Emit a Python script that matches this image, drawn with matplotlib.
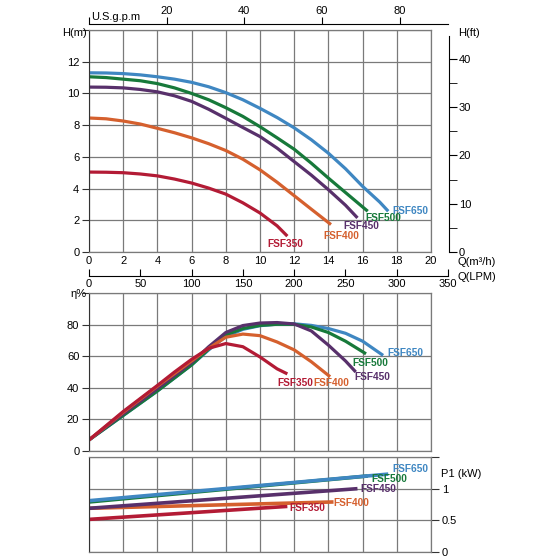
import matplotlib
matplotlib.use('Agg')
import matplotlib.pyplot as plt
import numpy as np

plt.rcParams['font.family'] = ['Liberation Sans', 'DejaVu Sans']
plt.rcParams['font.size'] = 8

# pump models and colours
models = ['FSF350', 'FSF400', 'FSF450', 'FSF500', 'FSF650']
colors = ['#b31b35', '#d5602e', '#58306b', '#17793a', '#3f87c2']

# head curves, Q in m3/h, H in m
q_head = {
   'FSF350': [0, 1, 2, 3, 4, 5, 6, 7, 8, 9, 10, 11, 11.6],
   'FSF400': [0, 1, 2, 3, 4, 5, 6, 7, 8, 9, 10, 11, 12, 13, 14.15],
   'FSF450': [0, 1, 2, 3, 4, 5, 6, 7, 8, 9, 10, 11, 12, 13, 14, 15, 15.7],
   'FSF500': [0, 1, 2, 3, 4, 5, 6, 7, 8, 9, 10, 11, 12, 13, 14, 15, 16.3],
   'FSF650': [0, 1, 2, 3, 4, 5, 6, 7, 8, 9, 10, 11, 12, 13, 14, 15, 16, 17, 17.5],
}
h_head = {
   'FSF350': [5.04, 5.03, 5.0, 4.92, 4.8, 4.6, 4.35, 4.03, 3.65, 3.1, 2.46, 1.65, 1.0],
   'FSF400': [8.45, 8.4, 8.26, 8.07, 7.8, 7.52, 7.2, 6.83, 6.4, 5.85, 5.18, 4.4, 3.55, 2.7, 1.73],
   'FSF450': [10.4, 10.39, 10.35, 10.25, 10.1, 9.85, 9.5, 9.0, 8.43, 7.85, 7.28, 6.55, 5.7, 4.85, 3.93, 2.95, 2.15],
   'FSF500': [11.05, 11.0, 10.9, 10.8, 10.62, 10.35, 10.0, 9.6, 9.1, 8.55, 7.9, 7.2, 6.48, 5.6, 4.66, 3.75, 2.57],
   'FSF650': [11.3, 11.29, 11.25, 11.17, 11.05, 10.9, 10.7, 10.42, 10.05, 9.6, 9.06, 8.48, 7.83, 7.08, 6.23, 5.25, 4.14, 3.15, 2.57],
}

# efficiency curves (%)
q_eff = {
   'FSF350': [0, 2, 4, 5, 6, 7, 8, 9, 10, 11, 11.6],
   'FSF400': [0, 2, 4, 6, 7, 8, 9, 10, 11, 12, 13, 14.1],
   'FSF450': [0, 2, 4, 6, 7, 8, 9, 10, 11, 12, 13, 14, 15, 15.6],
   'FSF500': [0, 2, 4, 6, 7, 8, 9, 10, 11, 12, 13, 14, 15, 16.2],
   'FSF650': [0, 2, 4, 6, 7, 8, 9, 10, 11, 12, 13, 14, 15, 16, 17.2],
}
eff = {
   'FSF350': [7, 25, 41.5, 50, 58, 65, 68, 66, 59.5, 52, 48.8],
   'FSF400': [7, 24.5, 41, 57, 65, 72, 74, 73, 69, 64, 56.5, 47],
   'FSF450': [7, 23.5, 39.5, 56, 66, 75, 79.4, 81, 81.3, 80.4, 76, 67, 57, 50],
   'FSF500': [7, 22.5, 38, 54.5, 64.5, 73.5, 77.5, 79.5, 80.2, 80.2, 78.5, 75, 69.5, 61.5],
   'FSF650': [7, 22.5, 38, 54.5, 64, 72.5, 77, 79.3, 80.3, 80.5, 79.5, 77.5, 74.5, 69.5, 60.5],
}

# input power P1 (kW)
q_pow = {
   'FSF350': [0, 11.6],
   'FSF400': [0, 14.3],
   'FSF450': [0, 15.7],
   'FSF500': [0, 16.3],
   'FSF650': [0, 17.5],
}
p1 = {
   'FSF350': [0.515, 0.72],
   'FSF400': [0.69, 0.79],
   'FSF450': [0.69, 1.0],
   'FSF500': [0.79, 1.2],
   'FSF650': [0.81, 1.23],
}

# label offsets from curve end, in pixels (dx, dy down)
head_lbl = {'FSF350': (-20, 8), 'FSF400': (-8, 11), 'FSF450': (-14, 8), 'FSF500': (-2, 7), 'FSF650': (4, 0)}
eff_lbl = {'FSF350': (-10, 9), 'FSF400': (-17, 6), 'FSF450': (-1, 5), 'FSF500': (-14, 9), 'FSF650': (4, -2)}
pow_lbl = {'FSF350': (2, 2), 'FSF400': (0, 1), 'FSF450': (3, 0), 'FSF500': (4, 3), 'FSF650': (4, -5)}

W = 560.0
GRID = '#7a7a7a'


def box(x0, y0, x1, y1):
   return [x0 / W, 1 - y1 / W, max((x1 - x0) / W, 1e-4), max((y1 - y0) / W, 1e-4)]


def style_grid(ax):
   ax.grid(True, color=GRID, linewidth=0.9)
   ax.set_axisbelow(True)
   for s in ['top', 'right', 'bottom']:
      ax.spines[s].set_color(GRID)
      ax.spines[s].set_linewidth(0.9)
   ax.spines['left'].set_color('#333333')
   ax.set_xlim(0, 20)
   ax.set_xticks(np.arange(0, 21, 2))


def label_end(ax, xs, ys, name, color, off):
   ax.annotate(name, xy=(xs[-1], ys[-1]), xytext=(off[0] * 0.72, -off[1] * 0.72),
               textcoords='offset points', ha='left', va='center',
               color=color, fontsize=7.3, fontweight='bold', annotation_clip=False)


fig = plt.figure(figsize=(5.6, 5.6), dpi=100)

#########################################################################
# Head curves
#########################################################################
ax_h = fig.add_axes(box(89, 30, 431, 252))
style_grid(ax_h)
ax_h.set_ylim(0, 14)
ax_h.set_yticks(np.arange(0, 15, 2))
ax_h.set_yticklabels([str(v) for v in range(0, 13, 2)] + [''])
ax_h.tick_params(axis='x', length=0, pad=3)
ax_h.tick_params(axis='y', length=5, direction='out', color='#333333', pad=2)
for name, c in zip(models, colors):
   ax_h.plot(q_head[name], h_head[name], color=c, linewidth=2.3, solid_capstyle='butt')
   label_end(ax_h, q_head[name], h_head[name], name, c, head_lbl[name])
fig.text(62 / W, 1 - 33 / W, 'H(m)', ha='left', va='center', fontsize=8)

# US gpm axis on top
ax_g = fig.add_axes(box(89, 24, 448, 24))
ax_g.set_xlim(0, 359 / 17.1 * 4.403)
ax_g.set_yticks([])
for s in ['left', 'right', 'bottom']:
   ax_g.spines[s].set_visible(False)
ax_g.xaxis.set_ticks_position('top')
ax_g.xaxis.set_label_position('top')
ax_g.set_xticks([0, 20, 40, 60, 80])
ax_g.set_xticklabels(['', '20', '40', '60', '80'])
ax_g.tick_params(axis='x', direction='out', length=5, pad=1)
ax_g.patch.set_visible(False)
fig.text(91 / W, 1 - 17 / W, 'U.S.g.p.m', ha='left', va='center', fontsize=8)

# H(ft) axis on the right
ax_ft = fig.add_axes(box(449, 36, 449, 252))
ax_ft.set_ylim(0, 216 / 4.83)
ax_ft.set_xticks([])
for s in ['left', 'top', 'bottom']:
   ax_ft.spines[s].set_visible(False)
ax_ft.yaxis.set_ticks_position('right')
ax_ft.set_yticks([0, 10, 20, 30, 40])
ax_ft.set_yticks([5, 15, 25, 35], minor=True)
ax_ft.tick_params(axis='y', which='both', direction='out', length=6, pad=1)
ax_ft.patch.set_visible(False)
fig.text(458 / W, 1 - 33 / W, 'H(ft)', ha='left', va='center', fontsize=8)

# LPM axis
ax_l = fig.add_axes(box(89, 276, 448, 276))
ax_l.set_xlim(0, 350)
ax_l.set_yticks([])
for s in ['left', 'right', 'top']:
   ax_l.spines[s].set_visible(False)
ax_l.set_xticks(np.arange(0, 351, 50))
ax_l.tick_params(axis='x', direction='in', length=5, pad=2)
ax_l.patch.set_visible(False)
fig.text(457 / W, 1 - 262 / W, 'Q(m³/h)', ha='left', va='center', fontsize=8)
fig.text(457 / W, 1 - 277 / W, 'Q(LPM)', ha='left', va='center', fontsize=8)

#########################################################################
# Efficiency curves
#########################################################################
ax_e = fig.add_axes(box(89, 293, 431, 451))
style_grid(ax_e)
ax_e.set_ylim(0, 100)
ax_e.set_yticks(np.arange(0, 101, 20))
ax_e.set_yticklabels(['0', '20', '40', '60', '80', ''])
ax_e.set_xticklabels([])
ax_e.tick_params(axis='x', length=0)
ax_e.tick_params(axis='y', length=5, direction='out', color='#333333', pad=2)
for name, c in zip(models[::-1], colors[::-1]):
   ax_e.plot(q_eff[name], eff[name], color=c, linewidth=2.3, solid_capstyle='butt')
   label_end(ax_e, q_eff[name], eff[name], name, c, eff_lbl[name])
fig.text(70 / W, 1 - 294 / W, 'η%', ha='left', va='center', fontsize=8)

#########################################################################
# Power curves
#########################################################################
ax_p = fig.add_axes(box(89, 457, 431, 552))
style_grid(ax_p)
ax_p.set_ylim(0, 1.5)
ax_p.set_yticks([0, 0.5, 1.0, 1.5])
ax_p.set_xticklabels([])
ax_p.tick_params(axis='x', length=0)
ax_p.yaxis.set_ticks_position('right')
ax_p.set_yticklabels(['0', '0.5', '1', ''])
ax_p.tick_params(axis='y', length=6, direction='out', color='#333333', pad=2)
for name, c in zip(models, colors):
   ax_p.plot(q_pow[name], p1[name], color=c, linewidth=2.6, solid_capstyle='butt')
   label_end(ax_p, q_pow[name], p1[name], name, c, pow_lbl[name])
fig.text(441 / W, 1 - 474 / W, 'P1 (kW)', ha='left', va='center', fontsize=8)

fig.savefig('out.png', dpi=100)
